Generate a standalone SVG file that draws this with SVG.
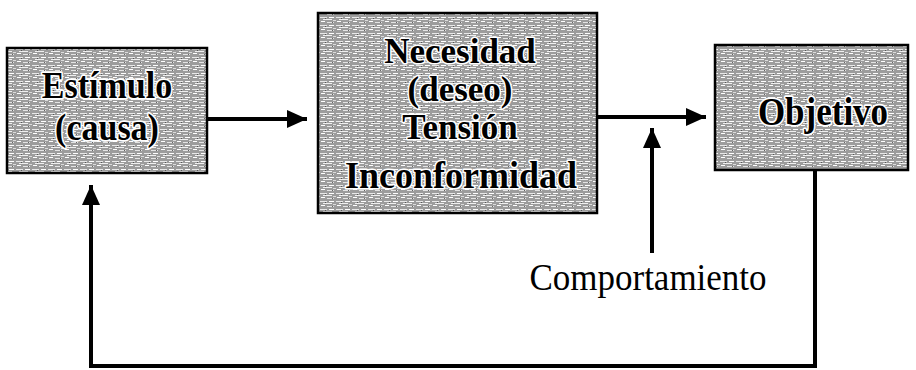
<svg xmlns="http://www.w3.org/2000/svg" width="916" height="370" viewBox="0 0 916 370">
<style>
.box{fill:url(#tex);stroke:#000;stroke-width:2.5}
.bt{font-family:"Liberation Serif","Times New Roman",serif;font-weight:bold;fill:#000;stroke:#fff;stroke-width:3;paint-order:stroke;stroke-linejoin:round;text-anchor:middle}
.lbl{font-family:"Liberation Serif","Times New Roman",serif;fill:#000;text-anchor:middle}
.ln{fill:none;stroke:#000;stroke-width:4}
</style>
<defs>
<pattern id="tex" width="16" height="8" patternUnits="userSpaceOnUse">
<rect width="16" height="8" fill="#9c9c9c"/>
<rect x="0" y="1" width="7" height="1" fill="#e8e8e8"/>
<rect x="9" y="1" width="5" height="1" fill="#ffffff"/>
<rect x="3" y="3" width="9" height="1" fill="#f0f0f0"/>
<rect x="13" y="4" width="3" height="1" fill="#dcdcdc"/>
<rect x="1" y="5" width="4" height="1" fill="#ffffff"/>
<rect x="7" y="6" width="7" height="1" fill="#e4e4e4"/>
<rect x="5" y="2" width="1" height="1" fill="#555"/>
<rect x="12" y="6" width="1" height="1" fill="#666"/>
</pattern>
<marker id="ah" viewBox="0 0 20 18" refX="20" refY="9" markerWidth="20" markerHeight="18" markerUnits="userSpaceOnUse" orient="auto">
<path d="M0,0 L20,9 L0,18 Z" fill="#000"/>
</marker>
</defs>
<g id="estimulo">
<rect class="box" x="7" y="48" width="200" height="125"/>
<text class="bt" font-size="34" transform="translate(107,98) scale(1,1.1)">Estímulo</text>
<text class="bt" font-size="34" transform="translate(107,140) scale(1,1.1)">(causa)</text>
</g>
<g id="necesidad">
<rect class="box" x="318" y="13" width="279" height="200"/>
<text class="bt" font-size="35" x="460" y="63">Necesidad</text>
<text class="bt" font-size="35" x="460" y="101">(deseo)</text>
<text class="bt" font-size="35" x="460" y="139">Tensión</text>
<text class="bt" font-size="36" transform="translate(461,188) scale(1,1.08)">Inconformidad</text>
</g>
<g id="objetivo">
<rect class="box" x="715" y="45" width="193" height="125"/>
<text class="bt" font-size="35" transform="translate(823,125) scale(1,1.12)">Objetivo</text>
</g>
<g id="comportamiento">
<text class="lbl" font-size="35" transform="translate(648,290) scale(1,1.1)">Comportamiento</text>
</g>
<g id="connectors">
<line class="ln" x1="207" y1="119" x2="307" y2="119" marker-end="url(#ah)"/>
<line class="ln" x1="597" y1="117" x2="706" y2="117" marker-end="url(#ah)"/>
<line class="ln" x1="652" y1="253" x2="652" y2="128" marker-end="url(#ah)"/>
<polyline class="ln" points="815,170 815,366 91,366 91,185" stroke-linejoin="miter" marker-end="url(#ah)"/>
</g>
</svg>
